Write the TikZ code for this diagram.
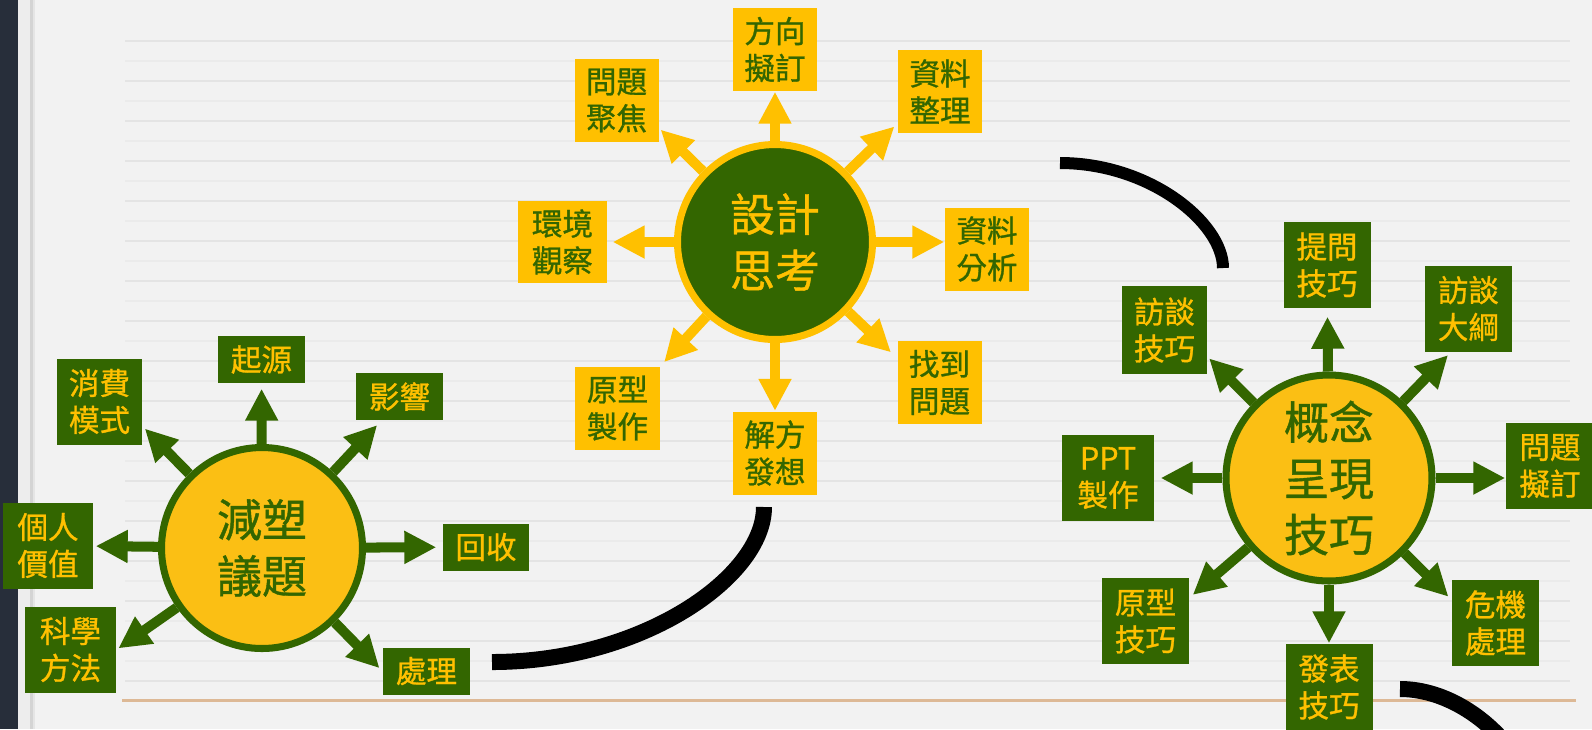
\documentclass[tikz,border=0pt]{standalone}
\usepackage{fontspec}
\setmainfont{Noto Sans CJK TC}
\newfontfamily\slfont{Noto Sans CJK TC}[FakeBold=0.9]
\usetikzlibrary{arrows.meta}
\definecolor{sl_green}{RGB}{51, 102, 0}
\definecolor{sl_yellow}{RGB}{255, 192, 0}
\definecolor{sl_gold}{RGB}{251, 191, 20}
\definecolor{sl_bg}{RGB}{242, 242, 242}
\definecolor{sl_bar}{RGB}{39, 46, 58}
\definecolor{sl_rule}{RGB}{228, 228, 228}
\definecolor{sl_rule2}{RGB}{235, 235, 235}
\definecolor{sl_tan}{RGB}{221, 185, 150}
\tikzstyle{oc}=[circle,fill=sl_gold,draw=sl_green,line width=2pt,minimum size=2.01cm,
  inner sep=0pt,text=sl_green,align=center,font=\slfont\fontsize{12.8}{16}\selectfont]
\tikzstyle{gc}=[oc,fill=sl_green,draw=sl_yellow,text=sl_yellow]
\tikzstyle{gb}=[rectangle,fill=sl_green,text=sl_yellow,inner sep=0pt,minimum width=0.87cm,
  minimum height=0.86cm,align=center,font=\slfont\fontsize{8.7}{10.5}\selectfont]
\tikzstyle{yb}=[gb,fill=sl_yellow,text=sl_green,minimum width=0.84cm,minimum height=0.83cm]
\tikzstyle{flat}=[minimum height=0.47cm]
\tikzstyle{arr}=[draw=sl_green,line width=2.85pt,-{Triangle[length=9.1pt,width=8.8pt]}]
\tikzstyle{yarr}=[arr,draw=sl_yellow]
\tikzstyle{link}=[draw=black,line width=0.16cm]
\tikzstyle{none}=[]

\begin{document}
\begin{tikzpicture}
            \useasboundingbox (0, 0) rectangle (15.92, -7.29);
            \clip (0, 0) rectangle (15.92, -7.29);
            \fill [sl_bg] (0, 0) rectangle (15.92, -7.29);
            \fill [sl_bar] (0, 0) rectangle (0.18, -7.29);
            \fill [white!93!black] (0.18, 0) rectangle (0.30, -7.29);
            \fill [white!83!black] (0.30, 0) rectangle (0.33, -7.29);
            \fill [white!90!black] (0.33, 0) rectangle (0.345, -7.29);
            \foreach \k in {0,...,16}
                \draw [sl_rule, line width=0.6pt] (1.25, -0.41-0.4*\k) -- (15.70, -0.41-0.4*\k);
            \foreach \k in {0,...,15}
                \draw [sl_rule2, line width=0.6pt] (1.25, -0.61-0.4*\k) -- (15.70, -0.61-0.4*\k);
            \draw [sl_tan, line width=0.85pt] (1.22, -7.00) -- (15.76, -7.00);

            \coordinate (26) at (4.92, -6.62);
            \coordinate (27) at (7.64, -5.07);
            \coordinate (28) at (10.60, -1.63);
            \coordinate (29) at (12.23, -2.68);
            \coordinate (30) at (14.00, -6.89);
            \coordinate (31) at (15.40, -8.30);
            \draw [style=link] (26) .. controls (6.42, -6.62) and (7.64, -5.77) .. (27);
            \draw [style=link, line width=0.12cm] (28) .. controls (11.50, -1.63) and (12.23, -2.23) .. (29);
            \draw [style=link] (30) .. controls (14.70, -6.89) and (15.40, -7.60) .. (31);

            \node [style=oc] (0) at (2.62, -5.48) {減塑\\議題};
            \node [style=gb, style=flat] (1) at (2.615, -3.595) {起源};
            \node [style=gb, minimum width=0.85cm] (2) at (0.995, -4.015) {消費\\模式};
            \node [style=gb, style=flat] (3) at (3.995, -3.965) {影響};
            \node [style=gb, minimum width=0.90cm] (4) at (0.48, -5.455) {個人\\價值};
            \node [style=gb, style=flat, minimum width=0.86cm] (5) at (4.86, -5.47) {回收};
            \node [style=gb, minimum width=0.91cm] (6) at (0.705, -6.495) {科學\\方法};
            \node [style=gb, style=flat] (7) at (4.265, -6.71) {處理};

            \node [style=gc, minimum size=1.95cm] (8) at (7.75, -2.42) {設計\\思考};
            \node [style=yb] (9) at (7.75, -0.495) {方向\\擬訂};
            \node [style=yb] (10) at (6.165, -1.005) {問題\\聚焦};
            \node [style=yb] (11) at (9.40, -0.915) {資料\\整理};
            \node [style=yb, minimum width=0.89cm, minimum height=0.82cm] (12) at (5.625, -2.42) {環境\\觀察};
            \node [style=yb] (13) at (9.87, -2.49) {資料\\分析};
            \node [style=yb, minimum width=0.85cm] (14) at (6.175, -4.08) {原型\\製作};
            \node [style=yb] (15) at (7.75, -4.53) {解方\\發想};
            \node [style=yb] (16) at (9.395, -3.825) {找到\\問題};

            \node [style=oc, minimum size=2.06cm] (17) at (13.29, -4.78) {概念\\呈現\\技巧};
            \node [style=gb] (18) at (13.27, -2.65) {提問\\技巧};
            \node [style=gb] (19) at (14.685, -3.085) {訪談\\大綱};
            \node [style=gb, minimum width=0.85cm, minimum height=0.88cm] (20) at (11.645, -3.30) {訪談\\技巧};
            \node [style=gb, minimum width=0.92cm] (21) at (11.08, -4.78) {PPT\\製作};
            \node [style=gb, minimum width=0.88cm] (22) at (15.50, -4.66) {問題\\擬訂};
            \node [style=gb] (23) at (11.455, -6.21) {原型\\技巧};
            \node [style=gb] (24) at (14.955, -6.23) {危機\\處理};
            \node [style=gb] (25) at (13.29, -6.87) {發表\\技巧};

            \draw [style=arr, shorten >=0.05cm] (0) to (1);
            \draw [style=arr, shorten >=0.03cm] (0) to (2.-30);
            \draw [style=arr, shorten >=0.06cm] (0) to (3.233);
            \draw [style=arr, shorten >=0.02cm] (0) to (4);
            \draw [style=arr, shorten >=0.06cm] (0) to (5);
            \draw [style=arr, shorten >=0.02cm] (0) to (6.east);
            \draw [style=arr, shorten >=0.04cm] (0) to (7.west);

            \draw [style=yarr] (8) to (9);
            \draw [style=yarr, shorten >=0.02cm] (8) to (10.-33);
            \draw [style=yarr, shorten >=0.04cm] (8) to (11.217);
            \draw [style=yarr, shorten >=0.05cm] (8) to (12);
            \draw [style=yarr] (8) to (13.west |- 8);
            \draw [style=yarr, shorten >=0.05cm] (8) to (14.north east);
            \draw [style=yarr] (8) to (15);
            \draw [style=yarr, shorten >=0.08cm] (8) to (16.150);

            \draw [style=arr, shorten >=0.08cm] (17) to (18);
            \draw [style=arr, shorten >=0.02cm] (17) to (20.-32);
            \draw [style=arr, shorten >=0.04cm] (17) to (19.248);
            \draw [style=arr, shorten >=0.06cm] (17) to (21);
            \draw [style=arr] (17) to (22.west |- 17);
            \draw [style=arr, shorten >=0.04cm] (17) to (23.28);
            \draw [style=arr] (17) to (25);
            \draw [style=arr, shorten >=0.04cm] (17) to (24.152);
    \end{tikzpicture}
\end{document}
